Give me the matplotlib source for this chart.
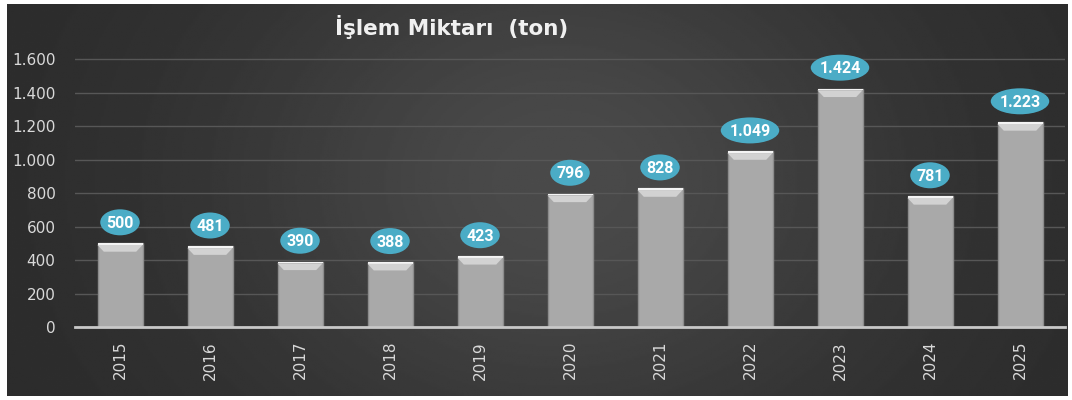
import numpy as np
import matplotlib
matplotlib.use('Agg')
from matplotlib import pyplot as plt
from matplotlib.patches import Ellipse
from matplotlib import transforms

years = ['2015', '2016', '2017', '2018', '2019', '2020', '2021', '2022', '2023', '2024', '2025']
values = [500, 481, 390, 388, 423, 796, 828, 1049, 1424, 781, 1223]
yticks = [0, 200, 400, 600, 800, 1000, 1200, 1400, 1600]
title = 'İşlem Miktarı  (ton)'

def fmt(v):
    return f'{v:,}'.replace(',', '.')

fig = plt.figure(figsize=(10.72, 4), dpi=100)
fig.patch.set_facecolor('white')

# dark gradient panel
bg = fig.add_axes([7/1072, 4/400, 1061/1072, 392/400])
yy, xx = np.mgrid[0:1:200j, 0:1:500j]
g = 0.17 + 0.12 * np.exp(-((xx - 0.52) ** 2 / 0.10 + (yy - 0.45) ** 2 / 0.45))
bg.imshow(g, cmap='gray', vmin=0, vmax=1, aspect='auto', extent=[0, 1, 0, 1])
bg.set_axis_off()

ax = fig.add_axes([75/1072, (400-327)/400, 990/1072, (327-50)/400])
ax.patch.set_alpha(0)
x = np.arange(len(years))
w = 0.5
ax.bar(x, values, width=w, color='#a9a9a9', edgecolor='#8c8c8c', lw=1, zorder=3)
# bevel on top of each bar
for xi, v in zip(x, values):
    ax.fill([xi - w/2, xi + w/2, xi + w/2, xi - w/2], [v, v, v - 10, v - 10],
            color='#f4f4f4', zorder=4, lw=0)
    ax.fill([xi - w/2, xi + w/2, xi + w/2 - 0.07, xi - w/2 + 0.07],
            [v - 10, v - 10, v - 50, v - 50], color='#d2d2d2', zorder=4, lw=0)

for xi, v in zip(x, values):
    lbl = fmt(v)
    tr = transforms.IdentityTransform() + transforms.ScaledTranslation(xi, v, ax.transData)
    ax.add_patch(Ellipse((0, 21), 9.5 * len(lbl) + 11, 26, transform=tr,
                         fc='#4bacc6', ec='none', zorder=5, clip_on=False))
    ax.annotate(lbl, (xi, v), xytext=(0, 20), textcoords='offset pixels',
                ha='center', va='center', color='white', fontsize=11.5, fontweight='bold',
                family=['Roboto', 'DejaVu Sans'], zorder=6)

ax.set_xlim(-0.5, len(years) - 0.5)
ax.set_ylim(0, 1655)
ax.set_yticks(yticks)
ax.set_yticklabels([fmt(t) for t in yticks])
ax.set_xticks(x)
ax.set_xticklabels(years, rotation=90)
ax.tick_params(colors='#d9d9d9', labelsize=11, length=0)
ax.tick_params(axis='y', pad=14)
ax.tick_params(axis='x', pad=10)
ax.grid(axis='y', color='#575757', lw=1, zorder=0)
for s in ['top', 'right', 'left']:
    ax.spines[s].set_visible(False)
ax.spines['bottom'].set_color('#c8c8c8')
ax.spines['bottom'].set_linewidth(2)
ax.spines['bottom'].set_zorder(6)

fig.text(452/1072, 1 - 27/400, title, ha='center', va='center', color='#f0f0f0',
         fontsize=15.5, fontweight='bold')

fig.savefig('out.png', dpi=100, facecolor='white')
